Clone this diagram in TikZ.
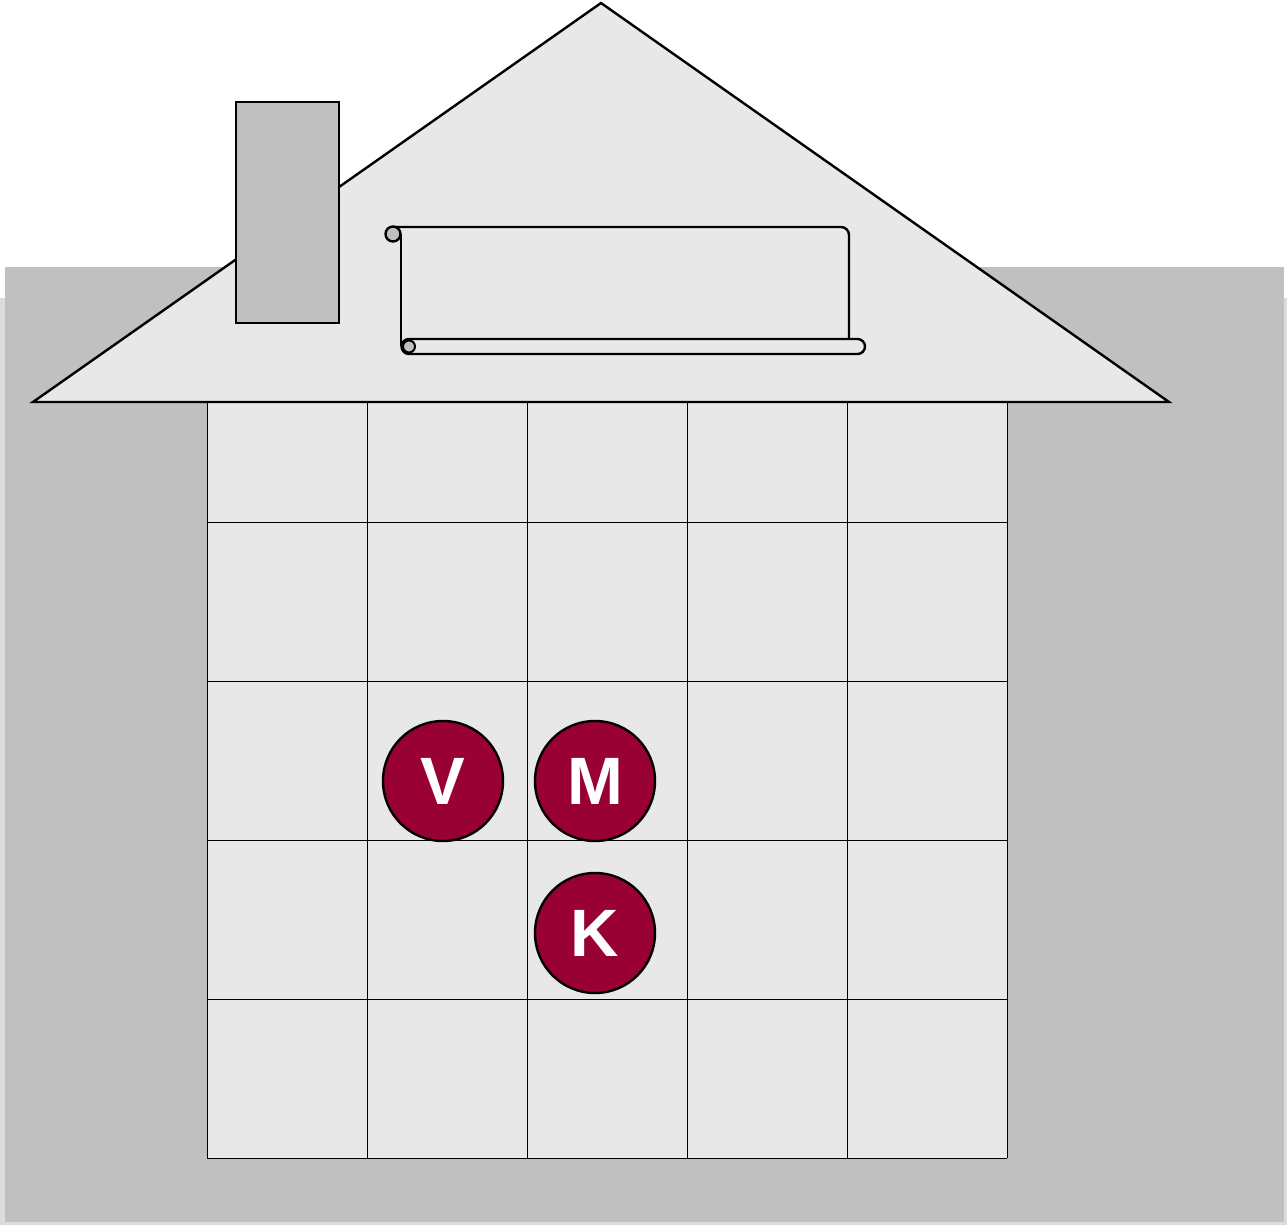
\documentclass[tikz,border=0pt]{standalone}
\usepackage{fontspec}
\setmainfont{Liberation Sans}
\definecolor{shadowgray}{HTML}{DCDCDC}
\definecolor{yardgray}{HTML}{C0C0C0}
\definecolor{wallgray}{HTML}{E8E8E8}
\definecolor{token}{HTML}{990033}
\tikzset{
  outline/.style={draw=black,line width=2.4pt,line join=miter},
  gridline/.style={draw=black,line width=0.9pt},
  pawn/.style={circle,draw=black,line width=2.4pt,fill=token,minimum size=120pt,inner sep=0pt,
    text=white,font=\fontsize{67}{67}\selectfont\bfseries},
}
\begin{document}
\begin{tikzpicture}[x=1pt,y=-1pt]
\useasboundingbox (0,0) rectangle (1287,1225);
\fill[white] (0,0) rectangle (1287,1225);
% shadow and yard
\fill[shadowgray] (0,298) rectangle (1287,1225);
\fill[yardgray] (5,267) rectangle (1284,1222);
% house grid
\fill[wallgray] (207,402) rectangle (1007,1158);
\foreach \x in {207,367,527,687,847,1007} \draw[gridline] (\x,402) -- (\x,1158);
\foreach \y in {522,681,840,999,1158} \draw[gridline] (207,\y) -- (1007,\y);
% roof
\coordinate (roofL) at (33,402);
\coordinate (roofT) at (601,3);
\coordinate (roofR) at (1169,402);
\draw[outline,fill=wallgray] (roofL) -- (roofT) -- (roofR) -- cycle;
% chimney
\node[outline,fill=yardgray,minimum width=103pt,minimum height=221pt,inner sep=0pt,anchor=north west] (chimney) at (235,101) {};
% scroll
\draw[outline,rounded corners=8pt] (393,227) -- (849,227) -- (849,339);
\draw[outline] (401,234) -- (401,346);
\draw[outline,fill=yardgray] (393,234) circle (7.5pt);
\draw[outline,fill=wallgray,rounded corners=7.5pt] (401.5,339) rectangle (865,354);
\draw[line width=2pt,fill=yardgray] (409,346.5) circle (6pt);
% tokens
\node[pawn] (V) at (443,781) {V};
\node[pawn] (M) at (595,781) {M};
\node[pawn] (K) at (595,933) {K};
\end{tikzpicture}
\end{document}
